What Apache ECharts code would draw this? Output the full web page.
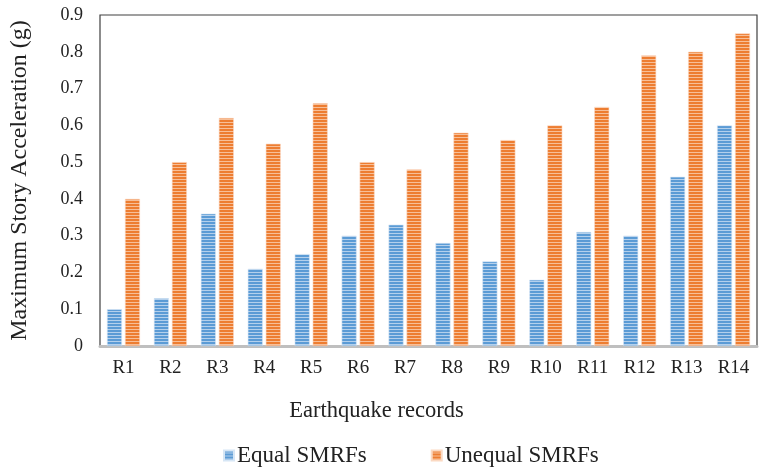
<!DOCTYPE html>
<html>
<head>
<meta charset="utf-8">
<script src="https://cdn.jsdelivr.net/npm/echarts@6/dist/echarts.min.js"></script>
<style>
  html, body { margin: 0; padding: 0; background: #fff; }
  #chart { width: 762px; height: 470px; }
</style>
</head>
<body>
<div id="chart"></div>
<script>
// data
const records = ['R1', 'R2', 'R3', 'R4', 'R5', 'R6', 'R7', 'R8', 'R9', 'R10', 'R11', 'R12', 'R13', 'R14']
const equalSmrfs = [0.10, 0.13, 0.36, 0.21, 0.25, 0.30, 0.33, 0.28, 0.23, 0.18, 0.31, 0.30, 0.46, 0.60]
const unequalSmrfs = [0.40, 0.50, 0.62, 0.55, 0.66, 0.50, 0.48, 0.58, 0.56, 0.60, 0.65, 0.79, 0.80, 0.85]

// horizontal stripe fill like the original
const stripes = (base, light) => {
  const c = document.createElement('canvas')
  c.width = 4
  c.height = 3
  const ctx = c.getContext('2d')
  ctx.fillStyle = base
  ctx.fillRect(0, 0, 4, 3)
  ctx.fillStyle = light
  ctx.fillRect(0, 2, 4, 1)
  return { image: c, repeat: 'repeat' }
}

const blueFill = stripes('#5b9bd5', '#b4d0ec')
const orangeFill = stripes('#ed7d31', '#f7bf98')

const font = 'Liberation Serif'
const chart = echarts.init(document.getElementById('chart'))

chart.setOption({
  animation: false,
  textStyle: { fontFamily: font },
  grid: {
    left: 100, right: 5, top: 15, bottom: 124,
    show: true, borderColor: '#404040', borderWidth: 1.2
  },
  legend: {
    bottom: -2,
    left: 218,
    itemWidth: 10,
    itemHeight: 10,
    itemGap: 64,
    textStyle: { fontFamily: font, fontSize: 23, color: '#222', padding: [0, 0, 0, -2] },
    data: [
      { name: 'Equal SMRFs', icon: 'rect', itemStyle: { color: blueFill } },
      { name: 'Unequal SMRFs', icon: 'rect', itemStyle: { color: orangeFill } }
    ]
  },
  xAxis: {
    type: 'category',
    data: records,
    name: 'Earthquake records',
    nameLocation: 'middle',
    nameGap: 54,
    nameTextStyle: { fontFamily: font, fontSize: 22.5, color: '#222', padding: [0, 104, 0, 0] },
    axisLine: { lineStyle: { color: '#bfbfbf', width: 3 } },
    axisTick: { show: false },
    axisLabel: { fontFamily: font, fontSize: 19, color: '#222', margin: 13 }
  },
  yAxis: {
    type: 'value',
    min: 0,
    max: 0.9,
    interval: 0.1,
    name: 'Maximum Story Acceleration (g)',
    nameLocation: 'middle',
    nameGap: 68,
    nameTextStyle: { fontFamily: font, fontSize: 24, color: '#222' },
    axisLine: { show: false },
    axisTick: { show: false },
    splitLine: { show: false },
    axisLabel: {
      fontFamily: font, fontSize: 18, color: '#222', margin: 17,
      formatter: v => (v === 0 ? '0' : v.toFixed(1))
    }
  },
  series: [
    {
      name: 'Equal SMRFs',
      type: 'bar',
      data: equalSmrfs,
      barWidth: 15,
      barGap: '20%',
      itemStyle: { color: blueFill, borderColor: '#d6e6f5', borderWidth: 0.6 }
    },
    {
      name: 'Unequal SMRFs',
      type: 'bar',
      data: unequalSmrfs,
      barWidth: 15,
      itemStyle: { color: orangeFill, borderColor: '#fbd9c2', borderWidth: 0.6 }
    }
  ]
})
</script>
</body>
</html>
